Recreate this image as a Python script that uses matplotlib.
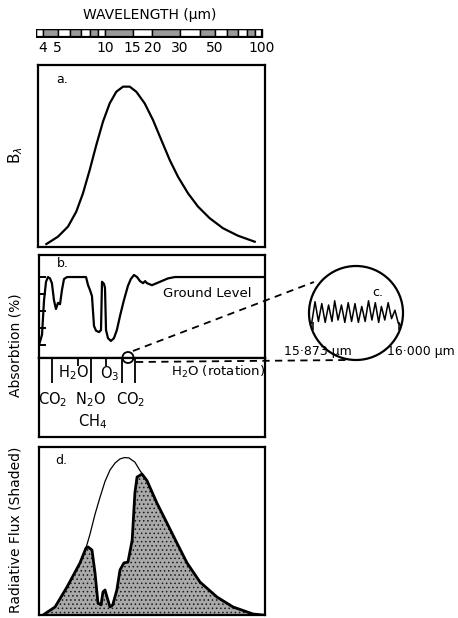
import numpy as np
import matplotlib.pyplot as plt
from matplotlib.patches import Circle

plt.rcParams['font.family'] = ['DejaVu Sans']
plt.rcParams['hatch.linewidth'] = 0.6

W, H = 458, 618

# wavelength scale
scale_ticks = [4, 5, 10, 15, 20, 30, 50, 100]
scale_divs = [4, 5, 6, 7, 8, 9, 10, 15, 20, 30, 40, 50, 60, 70, 80, 90]

# a. black body curve
wl_a = [4.23, 5.02, 5.81, 6.56, 7.24, 7.99, 8.80, 9.71, 10.71, 11.80, 13.02, 14.37,
        15.83, 17.90, 20.21, 22.84, 25.84, 29.17, 33.79, 39.12, 46.45, 56.45, 70.33, 89.85]
b_a = [0.016, 0.057, 0.112, 0.194, 0.295, 0.423, 0.560, 0.689, 0.789, 0.853, 0.881, 0.881,
       0.853, 0.789, 0.698, 0.588, 0.478, 0.386, 0.295, 0.222, 0.158, 0.103, 0.062, 0.029]

# b. absorption at ground level (%)
wl_b = [3.80, 3.97, 4.09, 4.21, 4.33, 4.46, 4.59, 4.73, 4.87, 5.02, 5.17, 5.32,
        5.48, 5.73, 7.57, 7.80, 8.02, 8.26, 8.51, 8.77, 9.16, 9.43, 9.57, 9.85,
        10.0, 10.15, 10.45, 10.9, 11.4, 11.9, 12.5, 13.2, 14.0, 14.6, 15.3, 16.0,
        16.7, 17.5, 18.0, 18.5, 19.9, 22.4, 25.2, 27.9, 104]
abs_b = [0, 15, 66, 93, 100, 98, 91, 66, 53, 62, 60, 81,
         97, 100, 100, 88, 81, 72, 28, 21, 19, 22, 93, 90,
         84, 22, 10, 6, 10, 22, 44, 66, 87, 97, 103, 100,
         94, 91, 94, 91, 88, 93, 98, 100, 100]
abs_ticks = [0, 25, 50, 75, 100]
band_long = [4.6, 8.1, 12.9, 15.5]
band_short = [6.7, 10.1]

# c. line spectrum 15.873 - 16.000 um
wl_c = [15.871, 15.876, 15.881, 15.886, 15.891, 15.896, 15.901, 15.905, 15.910,
        15.915, 15.920, 15.925, 15.930, 15.935, 15.940, 15.945, 15.950, 15.955,
        15.960, 15.965, 15.970, 15.974, 15.979, 15.984, 15.989, 15.994, 15.999, 16.003]
abs_c = [0.39, 0.62, 0.41, 0.60, 0.40, 0.585, 0.41, 0.63, 0.425, 0.585, 0.40, 0.61,
         0.41, 0.60, 0.40, 0.57, 0.41, 0.63, 0.425, 0.61, 0.40, 0.57, 0.425, 0.61,
         0.44, 0.53, 0.39, 0.37]

# d. black body and absorbed flux
wl_d_bb = [4.03, 4.81, 5.73, 6.93, 7.57, 8.02, 8.64, 9.29, 10.0, 10.76, 11.6, 12.46,
           13.3, 14.2, 15.5, 16.7, 18.8, 21.4, 24.8, 28.7, 33.3, 40.3, 51.7, 65.3, 87.6, 101.4]
bb_d = [0, 0.048, 0.167, 0.31, 0.40, 0.48, 0.60, 0.70, 0.795, 0.863, 0.905, 0.929,
        0.937, 0.935, 0.91, 0.86, 0.79, 0.667, 0.548, 0.429, 0.310, 0.196, 0.107, 0.048, 0.006, 0]
wl_d = [4.03, 4.81, 5.73, 6.93, 7.57, 7.80, 8.26, 8.64, 9.02, 9.43, 9.71, 10.0,
        10.3, 10.76, 11.2, 11.9, 12.46, 13.2, 14.0, 14.9, 15.5, 16.0, 17.2, 18.5,
        21.4, 24.8, 28.7, 33.3, 40.3, 51.7, 65.3, 87.6, 101.4]
flux_d = [0, 0.048, 0.167, 0.310, 0.399, 0.405, 0.387, 0.250, 0.071, 0.060, 0.137, 0.149,
          0.107, 0.048, 0.060, 0.149, 0.268, 0.310, 0.315, 0.446, 0.726, 0.821, 0.839, 0.80,
          0.667, 0.548, 0.429, 0.310, 0.196, 0.107, 0.048, 0.006, 0]


def lam(px):
    # pixel column -> wavelength on the common log axis
    return 10 ** (1 + (px - 105) / 157)


def add_box(l, t, r, b):
    ax = fig.add_axes([l / W, 1 - b / H, (r - l) / W, (b - t) / H])
    ax.set_xscale('log')
    ax.set_xlim(lam(l), lam(r))
    ax.set_xticks([])
    ax.set_xticks([], minor=True)
    ax.set_yticks([])
    for s in ax.spines.values():
        s.set_linewidth(1.6)
    return ax


fig = plt.figure(figsize=(W / 100, H / 100), dpi=100)

# wavelength ruler
ax_bar = add_box(36, 29, 263, 37)
ax_bar.set_ylim(0, 1)
edges = [3.66] + scale_divs + [100]
for i in range(len(edges) - 1):
    ax_bar.fill_between([edges[i], edges[i + 1]], 0, 1,
                        facecolor='white' if i % 2 == 0 else '#9a9a9a',
                        edgecolor='black', lw=1.0)
ax_bar.plot([3.66, 100, 100, 3.66, 3.66], [0, 0, 1, 1, 0], color='black', lw=1.6)
for s in ax_bar.spines.values():
    s.set_visible(False)
ax_bar.set_xticks(scale_ticks, [str(t) for t in scale_ticks])
ax_bar.tick_params(axis='x', length=0, pad=3, labelsize=10)
fig.text(150 / W, 1 - 15 / H, 'WAVELENGTH (µm)', ha='center', va='center', fontsize=10)

# a.
ax_a = add_box(38, 65, 265, 247)
ax_a.set_ylim(0, 1)
ax_a.plot(wl_a, b_a, color='black', lw=1.6)
ax_a.text(0.08, 0.90, 'a.', transform=ax_a.transAxes, fontsize=9)
fig.text(16 / W, 1 - 155 / H, r'B$_\lambda$', rotation=90, ha='center', va='center', fontsize=11)

# b. upper part
ax_b = add_box(39, 255, 265, 358)
ax_b.set_ylim(-19.1, 132.4)
ax_b.plot(wl_b, abs_b, color='black', lw=1.6)
ax_b.set_yticks(abs_ticks)
ax_b.tick_params(axis='y', direction='in', length=5, width=1.4, labelleft=False)
ax_b.text(0.08, 0.88, 'b.', transform=ax_b.transAxes, fontsize=9)
ax_b.text(lam(207), 76, 'Ground Level', ha='center', va='center', fontsize=9.5)
fig.text(16 / W, 1 - 345 / H, 'Absorbtion (%)', rotation=90, ha='center', va='center', fontsize=10)

# b. lower part with band markers
ax_b2 = add_box(39, 358, 265, 437)
ax_b2.set_ylim(0, 1)
ax_b2.vlines(band_long, 0.68, 1, color='black', lw=1.3)
ax_b2.vlines(band_short, 0.9, 1, color='black', lw=1.3)
ax_b2.text(lam(53), 0.47, r'CO$_2$', ha='center', va='center', fontsize=10.5)
ax_b2.text(lam(73), 0.82, r'H$_2$O', ha='center', va='center', fontsize=10.5)
ax_b2.text(lam(90), 0.47, r'N$_2$O', ha='center', va='center', fontsize=10.5)
ax_b2.text(lam(110), 0.80, r'O$_3$', ha='center', va='center', fontsize=10.5)
ax_b2.text(lam(131), 0.47, r'CO$_2$', ha='center', va='center', fontsize=10.5)
ax_b2.text(lam(93), 0.19, r'CH$_4$', ha='center', va='center', fontsize=10.5)
ax_b2.text(lam(218), 0.82, r'H$_2$O (rotation)', ha='center', va='center', fontsize=9.5)

# d.
ax_d = add_box(39, 447, 265, 615)
ax_d.set_ylim(0, 1)
ax_d.fill_between(wl_d, 0, flux_d, facecolor='#a9a9a9', edgecolor='#1a1a1a',
                  hatch='....', lw=0)
ax_d.plot(wl_d_bb, bb_d, color='black', lw=0.9)
ax_d.plot(wl_d, flux_d, color='black', lw=2.0)
ax_d.text(0.07, 0.90, 'd.', transform=ax_d.transAxes, fontsize=9)
fig.text(16 / W, 1 - 530 / H, 'Radiative Flux (Shaded)', rotation=90, ha='center', va='center', fontsize=10)

# c. magnified spectrum
ax_c = fig.add_axes([309 / W, 1 - 360 / H, 94 / W, 94 / H])
ax_c.set_xlim(15.8671, 16.0059)
ax_c.set_ylim(0, 1)
ax_c.axis('off')
ax_c.plot(wl_c, abs_c, color='black', lw=1.1)
ax_c.vlines([15.873, 16.000], 0.32, 0.40, color='black', lw=1.1)

# overlay in pixel coordinates for the zoom circles and dashed leaders
ov = fig.add_axes([0, 0, 1, 1])
ov.set_xlim(0, W)
ov.set_ylim(H, 0)
ov.axis('off')
ov.patch.set_alpha(0)
ov.add_patch(Circle((356, 313), 47, fill=False, lw=1.6, color='black'))
ov.add_patch(Circle((128, 357.5), 5.5, fill=False, lw=1.3, color='black'))
ov.plot([133, 314], [351, 282], color='black', lw=1.3, ls=(0, (4, 3)))
ov.plot([136, 350], [362, 360], color='black', lw=1.3, ls=(0, (4, 3)))
ov.text(378, 292, 'c.', ha='center', va='center', fontsize=9)
ov.text(318, 352, '15·873 µm', ha='center', va='center', fontsize=9)
ov.text(455, 351, '16·000 µm', ha='right', va='center', fontsize=9)

fig.savefig('out.png', dpi=100)
